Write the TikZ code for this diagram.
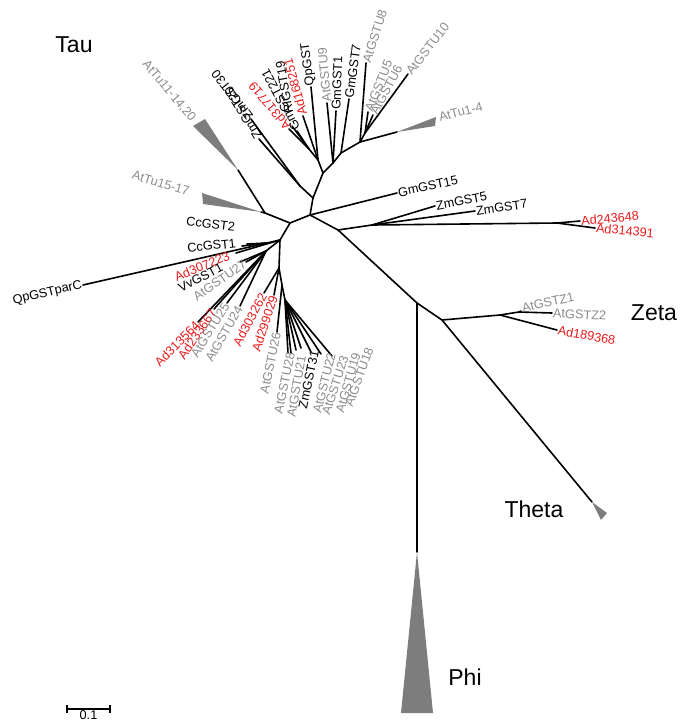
\documentclass[tikz,border=0pt]{standalone}
\usepackage{fontspec}
\setmainfont{Liberation Sans}
\usetikzlibrary{positioning, calc}
\definecolor{adred}{RGB}{232,28,28}
\definecolor{atgray}{RGB}{140,140,140}
\definecolor{cladegray}{RGB}{125,125,125}
\newcommand{\labfont}{\fontsize{12.7}{14}\selectfont}
\newcommand{\cladefont}{\fontsize{23}{26}\selectfont}

\begin{document}
\begin{tikzpicture}[x=1pt, y=-1pt,
  br/.style={line width=1.6pt, line cap=round, line join=round},
  lab/.style={font=\labfont, inner sep=1pt},
  adlab/.style={lab, text=adred},
  atlab/.style={lab, text=atgray},
  wedge/.style={fill=cladegray, draw=none},
  clade/.style={font=\cladefont, inner sep=0pt}
]
\useasboundingbox (0,0) rectangle (688,726);

% inner nodes
\coordinate (r1) at (310,215);
\coordinate (r2) at (290,223);
\coordinate (t0) at (313,198);
\coordinate (t1) at (323,173);
\coordinate (z0) at (300,186);
\coordinate (a0) at (318,160);
\coordinate (a1) at (309,149);
\coordinate (b0) at (333,163);
\coordinate (b1) at (341,153);
\coordinate (c0) at (360,142);
\coordinate (c1) at (365,133);
\coordinate (q0) at (338,230);
\coordinate (q1) at (372,225);
\coordinate (q2) at (557,223);
\coordinate (p1) at (417,303);
\coordinate (p2) at (442,320);
\coordinate (zt0) at (500,315);
\coordinate (zt1) at (519,312);
\coordinate (n1) at (265,213);
\coordinate (l1) at (280,240);
\coordinate (l2) at (267,243);
\coordinate (l5) at (266,251);
\coordinate (l7) at (279,268);
\coordinate (l3) at (282,285);
\coordinate (l6) at (285,300);

% leaves
\coordinate (zmgst30) at (251,119);
\coordinate (zmgst20) at (259,139);
\coordinate (ad317719) at (289,129);
\coordinate (rigst19) at (292,126);
\coordinate (gmgst221) at (297,131);
\coordinate (ad168251) at (303,116);
\coordinate (qpgst) at (311,87);
\coordinate (atu9) at (327,103);
\coordinate (gmgst1) at (336,111);
\coordinate (gmgst7) at (349,99);
\coordinate (atu8) at (366,63);
\coordinate (atu5) at (368,112);
\coordinate (atu6) at (373,115);
\coordinate (atu10) at (408,74);
\coordinate (attu14) at (397,132);
\coordinate (gmgst15) at (397,193);
\coordinate (zmgst5) at (435,206);
\coordinate (zmgst7) at (475,211);
\coordinate (ad243648) at (580,221);
\coordinate (ad314391) at (595,228);
\coordinate (atz1) at (521,311);
\coordinate (atz2) at (552,313);
\coordinate (ad189368) at (557,330);
\coordinate (theta) at (592,502);
\coordinate (phi) at (417,552);
\coordinate (attu1520) at (238,170);
\coordinate (attu1517) at (261,212);
\coordinate (qpgstparc) at (83,285);
\coordinate (ccgst2) at (247,244);
\coordinate (ccgst1) at (242,246);
\coordinate (ad307223) at (236,253);
\coordinate (vvgst1) at (240,262);
\coordinate (atu27) at (246,262);
\coordinate (ad313564) at (198,322);
\coordinate (ad233667) at (214,309);
\coordinate (atu25) at (227,303);
\coordinate (atu24) at (240,306);
\coordinate (ad303262) at (264,293);
\coordinate (ad299029) at (274,295);
\coordinate (atu26) at (277,332);
\coordinate (atu28) at (288,353);
\coordinate (atu21) at (291,353);
\coordinate (zmgst31) at (296,350);
\coordinate (atu22) at (301,348);
\coordinate (atu23) at (311,352);
\coordinate (atu19) at (321,354);
\coordinate (atu18) at (332,356);

% branches
\draw[br] (r2) -- (r1) -- (t0) -- (t1);
\draw[br] (t0) -- (z0) -- (zmgst30);
\draw[br] (z0) -- (zmgst20);
\draw[br] (t1) -- (a0) -- (a1) -- (ad317719);
\draw[br] (a1) -- (rigst19);
\draw[br] (a1) -- (gmgst221);
\draw[br] (a0) -- (ad168251);
\draw[br] (a0) -- (qpgst);
\draw[br] (t1) -- (b0) -- (gmgst1);
\draw[br] (b0) -- (atu9);
\draw[br] (b0) -- (b1) -- (gmgst7);
\draw[br] (b1) -- (c0) -- (atu8);
\draw[br] (c0) -- (c1) -- (atu5);
\draw[br] (c1) -- (atu6);
\draw[br] (c1) -- (atu10);
\draw[br] (c0) -- (attu14);
\draw[br] (r1) -- (gmgst15);
\draw[br] (r1) -- (q0) -- (p1) -- (p2) -- (theta);
\draw[br] (q0) -- (q1) -- (q2) -- (ad243648);
\draw[br] (q2) -- (ad314391);
\draw[br] (q1) -- (zmgst5);
\draw[br] (q1) -- (zmgst7);
\draw[br] (p1) -- (phi);
\draw[br] (p2) -- (zt0) -- (zt1) -- (atz1);
\draw[br] (zt1) -- (atz2);
\draw[br] (zt0) -- (ad189368);
\draw[br] (r2) -- (n1) -- (attu1517);
\draw[br] (n1) -- (attu1520);
\draw[br] (r2) -- (l1) -- (l2) -- (qpgstparc);
\draw[br] (l2) -- (ccgst1);
\draw[br] (l2) -- (ccgst2);
\draw[br] (l1) -- (ad307223);
\draw[br] (l1) -- (l5) -- (vvgst1);
\draw[br] (l5) -- (atu27);
\draw[br] (l5) -- (ad313564);
\draw[br] (l5) -- (ad233667);
\draw[br] (l5) -- (atu25);
\draw[br] (l5) -- (atu24);
\draw[br] (l1) -- (l7) -- (ad303262);
\draw[br] (l7) -- (ad299029);
\draw[br] (l7) -- (l3) -- (atu26);
\draw[br] (l3) -- (l6);
\foreach \leaf in {atu28,atu21,zmgst31,atu22,atu23,atu19,atu18}
  \draw[br] (l6) -- (\leaf);

% collapsed clades
\fill[wedge] (attu14) -- (436,117) -- (435,126) -- cycle;
\fill[wedge] (attu1520) -- (193,126) -- (205,119) -- cycle;
\fill[wedge] (attu1517) -- (202,193) -- (203,204) -- cycle;
\fill[wedge] (theta) -- (601,520) -- (607,513) -- cycle;
\fill[wedge] (phi) -- (401,713) -- (433,713) -- cycle;

% labels, upper tau
\node[lab, rotate=128, anchor=west] (lzmgst30) at (zmgst30) {ZmGST30};
\node[lab, rotate=122, anchor=west] (lzmgst20) at (zmgst20) {ZmGST20};
\node[adlab, rotate=130, anchor=west] (lad317719) at (ad317719) {Ad317719};
\node[lab, rotate=100, anchor=west] (lrigst19) at ($(rigst19)+(-3,-12)$) {RiGST19};
\node[lab, rotate=118, anchor=west] (lgmgst221) at (gmgst221) {GmGST221};
\node[adlab, rotate=105, anchor=west] (lad168251) at (ad168251) {Ad168251};
\node[lab, rotate=97, anchor=west] (lqpgst) at (qpgst) {QpGST};
\node[atlab, rotate=95, anchor=west] (latu9) at (atu9) {AtGSTU9};
\node[lab, rotate=88, anchor=west] (lgmgst1) at (gmgst1) {GmGST1};
\node[lab, rotate=82, anchor=west] (lgmgst7) at (gmgst7) {GmGST7};
\node[atlab, rotate=72, anchor=west] (latu8) at (atu8) {AtGSTU8};
\node[atlab, rotate=68, anchor=west] (latu5) at (atu5) {AtGSTU5};
\node[atlab, rotate=62, anchor=west] (latu6) at (atu6) {AtGSTU6};
\node[atlab, rotate=52, anchor=west] (latu10) at (atu10) {AtGSTU10};
\node[atlab, rotate=15, anchor=west] (lattu14) at (438,118) {AtTu1-4};

% labels, right
\node[lab, rotate=12, anchor=west] (lgmgst15) at (gmgst15) {GmGST15};
\node[lab, rotate=11, anchor=west] (lzmgst5) at (zmgst5) {ZmGST5};
\node[lab, rotate=8, anchor=west] (lzmgst7) at (zmgst7) {ZmGST7};
\node[adlab, rotate=5, anchor=west] (lad243648) at (ad243648) {Ad243648};
\node[adlab, rotate=-5, anchor=west] (lad314391) at (ad314391) {Ad314391};
\node[atlab, rotate=12, anchor=west] (latz1) at ($(atz1)+(0,-3)$) {AtGSTZ1};
\node[atlab, rotate=-3, anchor=west] (latz2) at (atz2) {AtGSTZ2};
\node[adlab, rotate=-10, anchor=west] (lad189368) at (ad189368) {Ad189368};

% labels, left tau
\node[atlab, rotate=-50, anchor=east] (lattu1520) at (194,121) {AtTu11-14,20};
\node[atlab, rotate=-17, anchor=east] (lattu1517) at (190,192) {AtTu15-17};
\node[lab, rotate=-7, anchor=east] (lccgst2) at (236,227) {CcGST2};
\node[lab, rotate=6, anchor=east] (lccgst1) at (237,243) {CcGST1};
\node[lab, rotate=13, anchor=east] (lqpgstparc) at (qpgstparc) {QpGSTparC};
\node[adlab, rotate=22, anchor=east] (lad307223) at (230,255) {Ad307223};
\node[lab, rotate=27, anchor=east] (lvvgst1) at (223,266) {VvGST1};
\node[atlab, rotate=35, anchor=east] (latu27) at (atu27) {AtGSTU27};
\node[adlab, rotate=46, anchor=east] (lad313564) at (ad313564) {Ad313564};
\node[adlab, rotate=56, anchor=east] (lad233667) at (ad233667) {Ad233667};
\node[atlab, rotate=58, anchor=east] (latu25) at (atu25) {AtGSTU25};
\node[atlab, rotate=60, anchor=east] (latu24) at (atu24) {AtGSTU24};
\node[adlab, rotate=62, anchor=east] (lad303262) at (ad303262) {Ad303262};
\node[adlab, rotate=72, anchor=east] (lad299029) at (ad299029) {Ad299029};
\node[atlab, rotate=78, anchor=east] (latu26) at (atu26) {AtGSTU26};
\node[atlab, rotate=78, anchor=east] (latu28) at (291,352) {AtGSTU28};
\node[atlab, rotate=80, anchor=east] (latu21) at (302,355) {AtGSTU21};
\node[lab, rotate=78, anchor=east] (lzmgst31) at (315,350) {ZmGST31};
\node[atlab, rotate=76, anchor=east] (latu22) at (332,352) {AtGSTU22};
\node[atlab, rotate=72, anchor=east] (latu23) at (345,355) {AtGSTU23};
\node[atlab, rotate=74, anchor=east] (latu19) at (357,352) {AtGSTU19};
\node[atlab, rotate=70, anchor=east] (latu18) at (370,347) {AtGSTU18};

% clade names
\node[clade] (tau) at (74,45) {Tau};
\node[clade] (zeta) at (654,313) {Zeta};
\node[clade] (thetaname) at (534,509) {Theta};
\node[clade] (phiname) at (465,677) {Phi};

% scale bar
\coordinate (sb0) at (67,709);
\coordinate (sb1) at (110,709);
\draw[line width=1.2pt] (sb0) -- (sb1);
\draw[line width=1.2pt] ([yshift=-4pt]sb0) -- ([yshift=4pt]sb0);
\draw[line width=1.2pt] ([yshift=-4pt]sb1) -- ([yshift=4pt]sb1);
\node[lab, below=0pt of $(sb0)!0.5!(sb1)$] (sblab) {0.1};
\end{tikzpicture}
\end{document}
